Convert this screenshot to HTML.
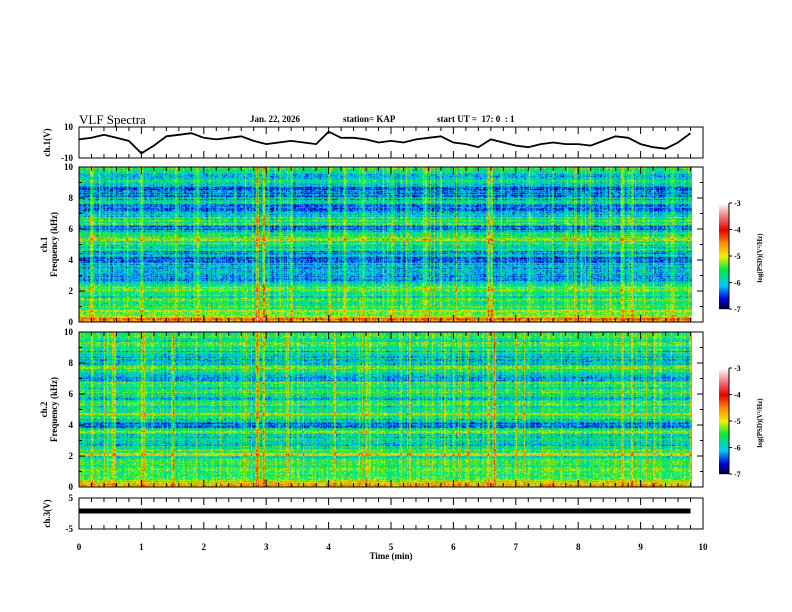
<!DOCTYPE html>
<html><head><meta charset="utf-8">
<style>
body{margin:0;background:#fff;}
#wrap{position:relative;width:792px;height:612px;overflow:hidden;background:#fff;font-family:"Liberation Serif",serif;font-weight:bold;}
.t{position:absolute;font-size:9px;color:#000;white-space:nowrap;}
canvas{position:absolute;}
</style></head><body>
<div id="wrap">
<div class="t" style="left:79px;top:112px;font-size:13px;font-weight:normal">VLF Spectra</div>
<div class="t" style="left:250px;top:114px">Jan. 22, 2026</div>
<div class="t" style="left:343px;top:114px">station= KAP</div>
<div class="t" style="left:437px;top:114px">start UT =&nbsp; 17: 0&nbsp; : 1</div>
<canvas id="spec1" width="613" height="155" style="left:79px;top:167px"></canvas>
<canvas id="spec2" width="613" height="155" style="left:79px;top:332px"></canvas>
<svg id="svg" width="792" height="612" style="position:absolute;left:0;top:0"></svg>
</div>
<script>
// ---- data ----
const timeStepMin = 0.2;
const ch1Wave = [2,3,5,3,1,-7,-2,4,5,6,3,2,3,4,1,-1,0,1,0,-1,7,3,3,2,0,1,0,2,3,4,0,-1,-3,2,0,-2,-3,-1,0,-1,-1,-2,1,4,3,-1,-3,-4,0,6];
const ch3Level = 0.8;
const freqStepKHz = 0.2;
const ch1Profile = [-4.5,-5.0,-5.3,-5.2,-5.5,-5.6,-5.6,-5.7,-5.6,-5.7,-5.2,-5.4,-5.9,-6.0,-6.1,-6.1,-6.0,-6.1,-6.0,-6.2,-6.2,-6.1,-6.0,-5.8,-5.7,-5.6,-5.0,-5.7,-5.8,-6.2,-6.3,-5.7,-5.5,-5.6,-5.9,-6.2,-6.3,-6.2,-5.6,-6.0,-6.3,-6.2,-6.4,-6.2,-6.0,-5.7,-5.9,-6.0,-5.6,-5.7];
const ch2Profile = [-4.6,-5.1,-5.3,-5.4,-5.5,-5.5,-5.6,-5.6,-5.5,-5.6,-5.0,-5.5,-5.8,-5.9,-6.0,-5.9,-5.8,-5.4,-5.7,-6.1,-6.2,-6.0,-5.6,-5.3,-5.5,-5.7,-5.6,-5.8,-5.9,-5.7,-5.6,-5.8,-5.7,-5.6,-6.1,-6.2,-5.9,-5.6,-5.4,-5.8,-6.0,-5.9,-5.8,-5.9,-5.7,-5.5,-5.6,-5.7,-5.5,-5.6];
const ch1BurstTimes = [0.2,1.0,1.55,1.9,2.85,2.95,3.4,4.0,4.55,5.0,6.55,6.6,8.7,8.85,9.5];
const ch1BurstAmps = [0.8,1.0,0.8,0.9,2.2,1.5,0.8,0.9,0.8,0.7,1.4,1.2,1.0,0.9,0.7];
const ch2BurstTimes = [0.2,1.0,1.5,2.85,2.95,3.5,4.6,6.55,6.65,8.7,8.85,9.3];
const ch2BurstAmps = [0.8,0.9,0.8,2.0,1.6,0.7,0.8,1.4,1.4,1.2,1.1,0.9];
const timeTicks = [0,1,2,3,4,5,6,7,8,9,10];
const cbarTicks = [-3,-4,-5,-6,-7];

// ---- geometry ----
const X0=79, X1=703;
const xT = t => X0 + t*(X1-X0)/10;
const svg=document.getElementById('svg');
const NS='http://www.w3.org/2000/svg';
function mk(tag,attrs,parent){const e=document.createElementNS(NS,tag);for(const k in attrs)e.setAttribute(k,attrs[k]);(parent||svg).appendChild(e);return e;}

const cstops=[[-7,[0,0,30]],[-6.6,[0,0,220]],[-6.1,[0,200,255]],[-5.5,[0,235,60]],[-5.0,[240,240,0]],[-4.5,[255,140,0]],[-4.0,[230,0,0]],[-3.5,[240,120,120]],[-3,[255,255,255]]];
function cmap(v){
  if(v<=cstops[0][0])return cstops[0][1];
  for(let i=1;i<cstops.length;i++){if(v<=cstops[i][0]){const a=cstops[i-1],b=cstops[i];const f=(v-a[0])/(b[0]-a[0]);return a[1].map((c,k)=>Math.round(c+(b[1][k]-c)*f));}}
  return cstops[cstops.length-1][1];
}
function hash(i,j){let h=(i*374761393+j*668265263)|0;h=(h^(h>>>13))*1274126177|0;return ((h^(h>>>16))>>>0)/4294967296;}
function drawSpec(id,profile,bT,bA,seed){
  const c=document.getElementById(id),ctx=c.getContext('2d');
  const W=c.width,H=c.height,img=ctx.createImageData(W,H);
  for(let y=0;y<H;y++){
    const f=(H-1-y)/(H-1)*10;
    const fi=Math.min(profile.length-1,Math.floor(f/freqStepKHz));
    const rowN=(hash(y,seed)-0.5)*0.6;
    for(let x=0;x<W;x++){
      const t=x/(W-1)*9.8;
      const colN=hash(x,seed+7);
      let v=profile[fi]+rowN+(hash(x,y+seed*1000)-0.5)*0.8+(colN-0.5)*0.5+(colN>0.9?(colN-0.9)*6*(f>1?1:0.3):0);
      for(let k=0;k<bT.length;k++){const d=Math.abs(t-bT[k]);if(d<0.03)v+=bA[k]*(1-d/0.03)*(0.6+0.4*hash(x+k,y));}
      const col=cmap(v),p=(y*W+x)*4;
      img.data[p]=col[0];img.data[p+1]=col[1];img.data[p+2]=col[2];img.data[p+3]=255;
    }
  }
  ctx.putImageData(img,0,0);
}
drawSpec('spec1',ch1Profile,ch1BurstTimes,ch1BurstAmps,11);
drawSpec('spec2',ch2Profile,ch2BurstTimes,ch2BurstAmps,23);

const panels=[
 {name:'ch1-waveform',top:127,bot:158,ylab:['10','-10'],yt:[127,158],label:'ch.1(V)'},
 {name:'ch1-spectrum',top:167,bot:322,freq:true,label:'ch.1'},
 {name:'ch2-spectrum',top:332,bot:487,freq:true,label:'ch.2'},
 {name:'ch3-waveform',top:498,bot:529,ylab:['5','-5'],yt:[498,529],label:'ch.3(V)'}
];
function txt(x,y,s,name,anchor,size,rot){const e=mk('text',{x:x,y:y,'font-family':'Liberation Serif, serif','font-weight':'bold','font-size':size||9,'text-anchor':anchor||'end',});if(rot)e.setAttribute('transform','rotate(-90 '+x+' '+y+')');e.textContent=s;return e;}
panels.forEach(p=>{
  const g=mk('g',{});
  const fr=mk('rect',{x:X0,y:p.top,width:X1-X0,height:p.bot-p.top,fill:'none',stroke:'#000','stroke-width':1},g);
  
  for(let i=0;i<=50;i++){const t=i*0.2,x=xT(t),maj=(i%5===0);const L=maj?7:4;
    mk('line',{x1:x,x2:x,y1:p.top,y2:p.top+L,stroke:'#000','stroke-width':1},g);
    mk('line',{x1:x,x2:x,y1:p.bot,y2:p.bot-L,stroke:'#000','stroke-width':1},g);}
  if(p.freq){
    for(let f=0;f<=10;f+=1){const y=p.bot-(p.bot-p.top)*f/10,L=(f%2===0)?6:3;
      mk('line',{x1:X0,x2:X0+L,y1:y,y2:y,stroke:'#000'},g);mk('line',{x1:X1,x2:X1-L,y1:y,y2:y,stroke:'#000'},g);
      if(f%2===0)txt(X0-6,y+3,String(f),p.name+'-ytick-'+f,'end',9);}
    txt(47,(p.top+p.bot)/2,p.label,p.name+'-channel-label','middle',9,true);
    txt(57,(p.top+p.bot)/2,'Frequency (kHz)',p.name+'-y-axis-title','middle',9,true);
  } else {
    txt(X0-6,p.yt[0]+3,p.ylab[0],p.name+'-ytick-top');txt(X0-6,p.yt[1]+3,p.ylab[1],p.name+'-ytick-bottom');
    txt(50,(p.top+p.bot)/2,p.label,p.name+'-y-axis-title','middle',9,true);
  }
});
const yW=v=>142.5-v*31/20;
let d='';ch1Wave.forEach((v,i)=>{d+=(i?'L':'M')+xT(i*timeStepMin).toFixed(1)+' '+yW(v).toFixed(1);});
mk('path',{d:d,fill:'none',stroke:'#000','stroke-width':1.8,});
const y3=v=>513.5-v*31/10;
mk('line',{x1:xT(0),x2:xT(9.8),y1:y3(ch3Level),y2:y3(ch3Level),stroke:'#000','stroke-width':5,});
timeTicks.forEach(t=>txt(xT(t),550,String(t),'x-tick-'+t,'middle',9));
txt(391,559,'Time (min)','x-axis-title','middle',9);
function cbar(top,bot,name){
  const x=719,w=10,g=mk('g',{});
  const n=bot-top;
  for(let i=0;i<n;i++){const v=-3-4*i/n,c=cmap(v);mk('rect',{x:x,y:top+i,width:w,height:1.2,fill:'rgb('+c.join(',')+')'},g);}
  mk('line',{x1:x+w,x2:x+w,y1:top,y2:bot,stroke:'#000'},g);
  cbarTicks.forEach(v=>{const y=top+(-3-v)/4*n;mk('line',{x1:x+w,x2:x+w+3,y1:y,y2:y,stroke:'#000'},g);
    txt(x+w+5,y+3,String(v),name+'-tick-'+(-v),'start',8);});
  txt(762,(top+bot)/2+2,'log(PSD)(V²/Hz)',name+'-title','middle',7,true);
}
cbar(203,309,'ch1-colorbar');
cbar(368,474,'ch2-colorbar');
</script>
</body></html>
